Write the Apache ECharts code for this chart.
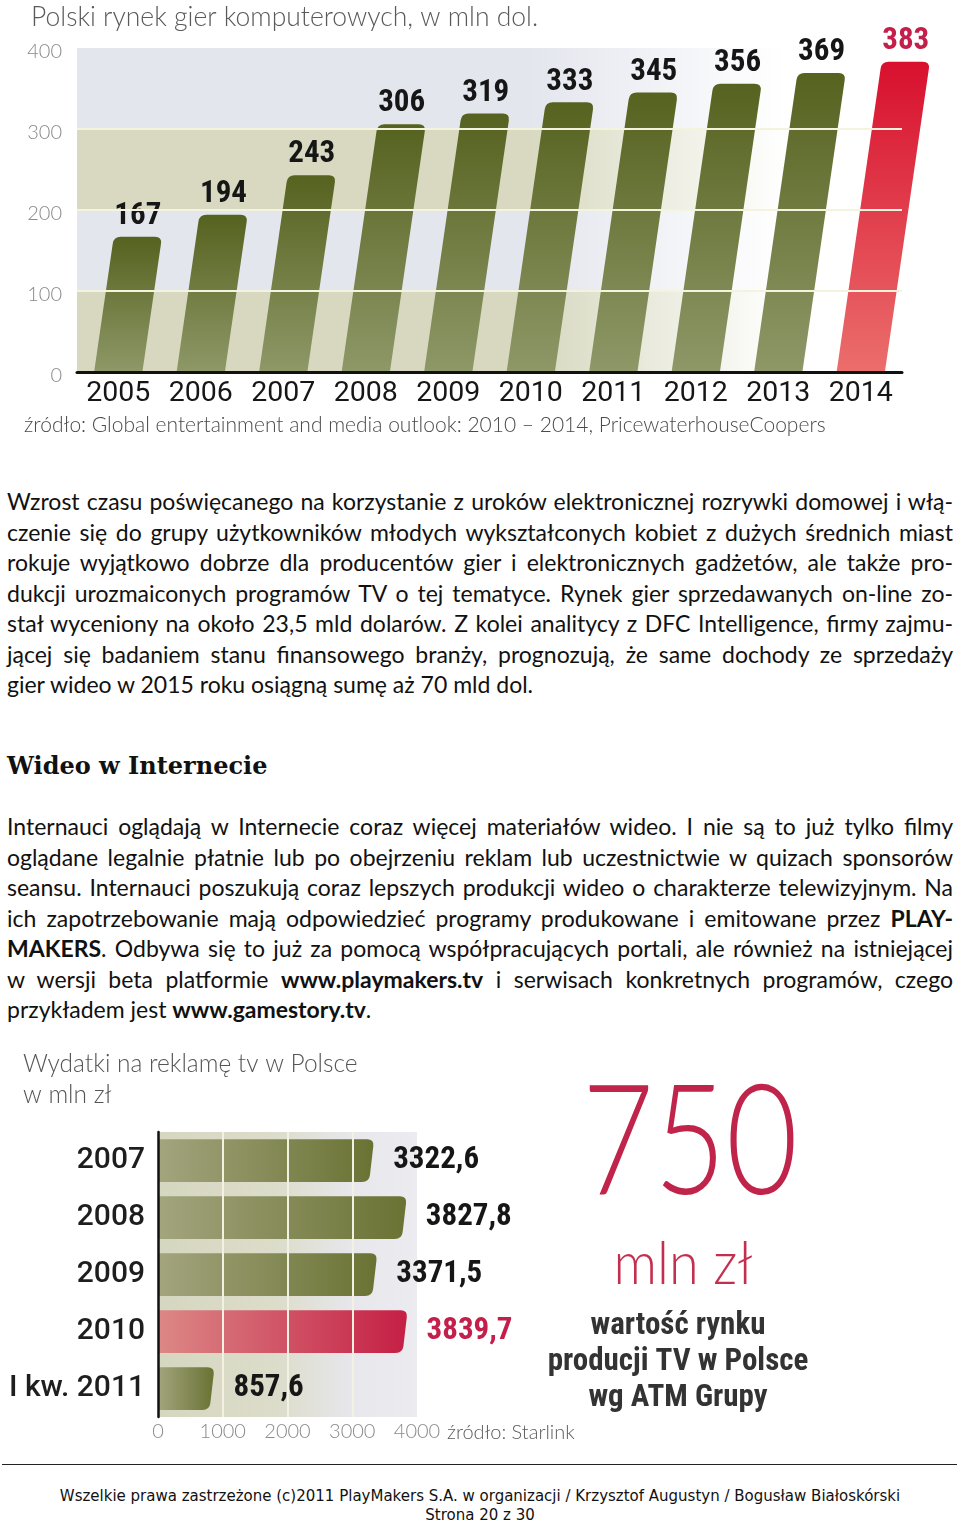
<!DOCTYPE html>
<html><head><meta charset="utf-8">
<script src="https://cdn.jsdelivr.net/npm/echarts@6/dist/echarts.min.js"></script>
<style>
html,body{margin:0;padding:0;background:#fff;}
body{width:960px;height:1522px;position:relative;overflow:hidden;font-family:Lato,'Open Sans',sans-serif;color:#111;}
#c1{position:absolute;left:0;top:0;width:960px;height:450px;}
#c2{position:absolute;left:0;top:1040px;width:960px;height:420px;}
.para{position:absolute;left:7px;width:946px;font-size:23px;line-height:30.5px;}
.ln{display:block;white-space:nowrap;}
#p1{top:486px;}
#h2{position:absolute;left:7px;top:751px;font-family:'DejaVu Serif',serif;font-weight:bold;font-size:24px;line-height:30px;white-space:nowrap;}
#p2{top:811px;}
#rule{position:absolute;left:2px;top:1464px;width:955px;height:0;border-top:1.5px solid #222;}
#foot{position:absolute;left:0;top:1487px;width:960px;text-align:center;font-family:'DejaVu Sans',sans-serif;font-size:15px;line-height:18.5px;color:#111;}
</style></head>
<body>
<div id="c1"></div>
<div class="para" id="p1">
<span class="ln j">Wzrost czasu poświęcanego na korzystanie z uroków elektronicznej rozrywki domowej i włą-</span>
<span class="ln j">czenie się do grupy użytkowników młodych wykształconych kobiet z dużych średnich miast</span>
<span class="ln j">rokuje wyjątkowo dobrze dla producentów gier i elektronicznych gadżetów, ale także pro-</span>
<span class="ln j">dukcji urozmaiconych programów TV o tej tematyce. Rynek gier sprzedawanych on-line zo-</span>
<span class="ln j">stał wyceniony na około 23,5 mld dolarów. Z kolei analitycy z DFC Intelligence, firmy zajmu-</span>
<span class="ln j">jącej się badaniem stanu finansowego branży, prognozują, że same dochody ze sprzedaży</span>
<span class="ln">gier wideo w 2015 roku osiągną sumę aż 70 mld dol.</span>
</div>
<div id="h2">Wideo w Internecie</div>
<div class="para" id="p2">
<span class="ln j">Internauci oglądają w Internecie coraz więcej materiałów wideo. I nie są to już tylko filmy</span>
<span class="ln j">oglądane legalnie płatnie lub po obejrzeniu reklam lub uczestnictwie w quizach sponsorów</span>
<span class="ln j">seansu. Internauci poszukują coraz lepszych produkcji wideo o charakterze telewizyjnym. Na</span>
<span class="ln j">ich zapotrzebowanie mają odpowiedzieć programy produkowane i emitowane przez <b>PLAY-</b></span>
<span class="ln j"><b>MAKERS</b>. Odbywa się to już za pomocą współpracujących portali, ale również na istniejącej</span>
<span class="ln j">w wersji beta platformie <b>www.playmakers.tv</b> i serwisach  konkretnych programów, czego</span>
<span class="ln">przykładem jest <b>www.gamestory.tv</b>.</span>
</div>
<div id="c2"></div>
<div id="rule"></div>
<div id="foot">Wszelkie prawa zastrzeżone (c)2011 PlayMakers S.A. w organizacji / Krzysztof Augustyn / Bogusław Białoskórski<br>Strona 20 z 30</div>
<script>
// ---------- DATA ----------
const years1 = ['2005','2006','2007','2008','2009','2010','2011','2012','2013','2014'];
const values1 = [167,194,243,306,319,333,345,356,369,383];
const yTicks1 = [0,100,200,300,400];
const highlightYear1 = '2014';

const cats2 = ['2007','2008','2009','2010','I kw. 2011'];
const values2 = [3322.6,3827.8,3371.5,3839.7,857.6];
const xTicks2 = [0,1000,2000,3000,4000];
const highlightCat2 = '2010';

// ---------- justify text lines ----------
function justify(){
  document.querySelectorAll('.ln.j').forEach(el=>{
    el.style.wordSpacing='0px';
    const r=document.createRange(); r.selectNodeContents(el);
    const w=r.getBoundingClientRect().width;
    const n=(el.textContent.trim().match(/ +/g)||[]).length;
    if(n>0) el.style.wordSpacing=((946-w)/n)+'px';
  });
}
justify();

const NUMFONT = "'Liberation Sans Narrow','Roboto Condensed','DejaVu Sans Condensed',Roboto,sans-serif";
const LIGHT = "Lato,'Open Sans',sans-serif";
const fmt = v => String(v).replace('.',',');

// ---------- Chart 1 ----------
const c1 = echarts.init(document.getElementById('c1'), null, {renderer:'canvas'});
function bandGrad(c){
  return new echarts.graphic.LinearGradient(0,0,1,0,[
    {offset:0,color:c},{offset:0.55,color:c},{offset:0.86,color:'#ffffff'},{offset:1,color:'#ffffff'}]);
}
function slantBar(params, api){
  const i = api.value(0), v = api.value(1);
  const b = api.coord([i,0]), t = api.coord([i,v]);
  const w = api.size([1,0])[0]*0.585;
  const k = 0.145;
  const dx = (b[1]-t[1])*k;
  const x0=b[0]-w/2, x1=b[0]+w/2, y0=b[1], y1=t[1];
  const r=7;
  const L=Math.hypot(dx,y0-y1), ux=-dx/L, uy=(y0-y1)/L;
  const TL=x0+dx, TR=x1+dx;
  const p=`M${x0},${y0} L${TL+ux*r},${y1+uy*r} Q${TL},${y1} ${TL+r},${y1} L${TR-r},${y1} Q${TR},${y1} ${TR+ux*r},${y1+uy*r} L${x1},${y0} Z`;
  const red = years1[i]===highlightYear1;
  const fill = red
    ? new echarts.graphic.LinearGradient(0,0,0,1,[{offset:0,color:'#d8102e'},{offset:1,color:'#eb6e6c'}])
    : new echarts.graphic.LinearGradient(0,0,0,1,[{offset:0,color:'#56621f'},{offset:1,color:'#8e9868'}]);
  return {type:'group',children:[
    {type:'path',shape:{pathData:p},style:{fill:fill}},
    {type:'text',x:b[0]+dx,y:y1-5,style:{text:String(v),fontSize:31,fontWeight:'bold',fontFamily:NUMFONT,
      fill:red?'#c41e4a':'#161616',align:'center',verticalAlign:'bottom'}}
  ]};
}
const gl='#f4f4de', tr='rgba(0,0,0,0)';
c1.setOption({
  animation:false,
  title:[
    {text:'Polski rynek gier komputerowych, w mln dol.',left:31,top:4,padding:0,
     textStyle:{fontSize:26.5,fontWeight:300,fontFamily:LIGHT,color:'#5a5a5a'}},
    {text:'źródło: Global entertainment and media outlook: 2010 – 2014, PricewaterhouseCoopers',left:24,top:415,padding:0,
     textStyle:{fontSize:21,fontWeight:300,fontFamily:LIGHT,color:'#4a4a4a'}}
  ],
  grid:{left:77,right:58,top:48,bottom:78},
  xAxis:{type:'category',data:years1,z:6,
    axisLine:{lineStyle:{color:'#111',width:3}},axisTick:{show:false},
    axisLabel:{interval:0,fontSize:28.5,color:'#161616',margin:7,fontFamily:'Roboto'}},
  yAxis:[
    {type:'value',min:yTicks1[0],max:yTicks1[yTicks1.length-1],interval:yTicks1[1]-yTicks1[0],
     axisLine:{show:false},axisTick:{show:false},
     axisLabel:{margin:15,formatter:v=>'{a|'+v+'}',
       rich:{a:{fontSize:20,color:'#8a8a8a',fontWeight:300,fontFamily:LIGHT,padding:[8,0,0,0]}}},
     splitLine:{show:false},
     splitArea:{show:true,areaStyle:{color:[bandGrad('#d7d8bf'),bandGrad('#e4e6ee'),bandGrad('#d8d9c0'),bandGrad('#e4e6ee')]}}},
    {type:'value',min:yTicks1[0],max:yTicks1[yTicks1.length-1],interval:yTicks1[1]-yTicks1[0],position:'left',z:5,
     axisLine:{show:false},axisTick:{show:false},axisLabel:{show:false},
     splitLine:{show:true,lineStyle:{color:[tr,gl,gl,gl,tr],width:2}}}
  ],
  series:[{type:'custom',renderItem:slantBar,data:values1.map((v,i)=>[i,v]),encode:{x:0,y:1},clip:false,z:2}]
});

// ---------- Chart 2 ----------
const c2 = echarts.init(document.getElementById('c2'), null, {renderer:'canvas'});
function hBar(params, api){
  const v = api.value(0), i = api.value(1);
  const s = api.coord([0,i]), e = api.coord([v,i]);
  const h = api.size([0,1])[1]*0.75;
  const x0=s[0], yt=s[1]-h/2, yb=s[1]+h/2;
  const xt=e[0]+1, xb=e[0]-4;
  const r=7;
  const L=Math.hypot(xb-xt,yb-yt), ux=(xb-xt)/L, uy=(yb-yt)/L;
  const p=`M${x0},${yt} L${xt-r},${yt} Q${xt},${yt} ${xt+ux*r},${yt+uy*r} L${xb-ux*r},${yb-uy*r} Q${xb},${yb} ${xb-r},${yb} L${x0},${yb} Z`;
  const red = cats2[i]===highlightCat2;
  const fill = red
    ? new echarts.graphic.LinearGradient(0,0,1,0,[{offset:0,color:'#dc8886'},{offset:1,color:'#c51f45'}])
    : new echarts.graphic.LinearGradient(0,0,1,0,[{offset:0,color:'#a3a57e'},{offset:1,color:'#6a7233'}]);
  return {type:'group',children:[
    {type:'path',shape:{pathData:p},style:{fill:fill}},
    {type:'text',x:e[0]+20,y:s[1],style:{text:fmt(v),fontSize:31,fontWeight:'bold',fontFamily:NUMFONT,
      fill:red?'#c41e4a':'#161616',align:'left',verticalAlign:'middle'}}
  ]};
}
const gl2='#f3f2e2';
c2.setOption({
  animation:false,
  title:[
    {text:'Wydatki na reklamę tv w Polsce\nw mln zł',left:23,top:9,padding:0,
     textStyle:{fontSize:24.5,lineHeight:31,fontWeight:300,fontFamily:LIGHT,color:'#555'}},
    {text:'źródło: Starlink',left:447,top:383,padding:0,
     textStyle:{fontSize:20,fontWeight:300,fontFamily:LIGHT,color:'#5a5a5a'}}
  ],
  graphic:[
    {type:'text',x:690,y:104,scaleX:0.8,style:{text:'750',fontSize:155,fontWeight:300,fontFamily:LIGHT,fill:'#c0244a',align:'center',verticalAlign:'middle'}},
    {type:'text',x:683,y:225,scaleX:0.9,style:{text:'mln zł',fontSize:60,fontWeight:300,fontFamily:LIGHT,fill:'#c3304f',align:'center',verticalAlign:'middle'}},
    {type:'text',x:678,y:286,style:{text:'wartość rynku',fontSize:31,fontWeight:'bold',fontFamily:NUMFONT,fill:'#333',align:'center',verticalAlign:'middle'}},
    {type:'text',x:678,y:322,style:{text:'producji TV w Polsce',fontSize:31,fontWeight:'bold',fontFamily:NUMFONT,fill:'#333',align:'center',verticalAlign:'middle'}},
    {type:'text',x:678,y:358,style:{text:'wg ATM Grupy',fontSize:31,fontWeight:'bold',fontFamily:NUMFONT,fill:'#333',align:'center',verticalAlign:'middle'}}
  ],
  grid:{left:158,right:543,top:92,bottom:43,show:true,borderWidth:0,
    backgroundColor:new echarts.graphic.LinearGradient(0,0,1,0,[{offset:0,color:'#d6d7c0'},{offset:0.45,color:'#dcdcca'},{offset:0.75,color:'#e7e7ec'},{offset:1,color:'#ebebf0'}])},
  xAxis:{type:'value',min:xTicks2[0],max:xTicks2[xTicks2.length-1],interval:xTicks2[1]-xTicks2[0],z:5,
    axisLine:{show:false},axisTick:{show:false},
    axisLabel:{fontSize:20,color:'#8a8a8a',margin:5,fontWeight:300,fontFamily:LIGHT,formatter:v=>String(v)},
    splitLine:{show:true,lineStyle:{color:[tr,gl2,gl2,gl2,tr],width:2}}},
  yAxis:{type:'category',data:cats2,inverse:true,z:6,
    axisLine:{lineStyle:{color:'#111',width:2.5}},axisTick:{show:false},
    axisLabel:{interval:0,fontSize:30,color:'#1e1e1e',margin:13,fontWeight:500,fontFamily:'Roboto'}},
  series:[{type:'custom',renderItem:hBar,data:values2.map((v,i)=>[v,i]),encode:{x:0,y:1},clip:false,z:2}]
});
</script>
</body></html>
